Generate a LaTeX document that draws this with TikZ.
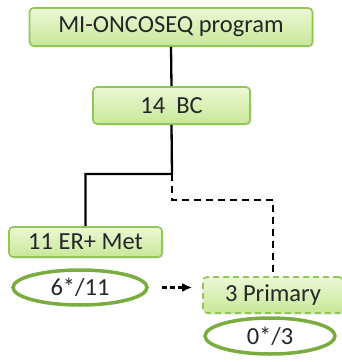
\documentclass[tikz,border=0pt]{standalone}
\usepackage{fontspec}
\setmainfont{Carlito}
\usetikzlibrary{arrows.meta,shapes.geometric,shadows}

\begin{document}
\begin{tikzpicture}[x=1pt,y=-1pt,>={Latex[length=10pt,width=9pt]},
  grbox/.style={draw=boxedge,line width=1.6pt,rounded corners=4pt,top color=boxtop,bottom color=boxbot,
    drop shadow={opacity=.2,shadow xshift=1.5pt,shadow yshift=-1.5pt},
    inner sep=0pt,font=\fontsize{24.5}{28}\selectfont,text=black!85},
  count/.style={ellipse,draw=ringgreen,line width=3.5pt,fill=white,inner sep=0pt,font=\fontsize{24.5}{28}\selectfont,text=black!85},
  link/.style={line width=2.3pt,draw=black},
  maybe/.style={line width=2.3pt,draw=black,dash pattern=on 7pt off 5pt}]
\definecolor{boxedge}{RGB}{146,198,86}
\definecolor{boxtop}{RGB}{236,248,214}
\definecolor{boxbot}{RGB}{200,231,152}
\definecolor{ringgreen}{RGB}{122,172,64}
\useasboundingbox (0,0) rectangle (342,362);
\node[grbox,minimum width=283pt,minimum height=38pt] (prog) at (171,27) {MI-ONCOSEQ program};
\node[grbox,minimum width=157pt,minimum height=37pt] (bc) at (171.5,105.5) {14\ \ BC};
\node[grbox,minimum width=153pt,minimum height=30pt] (met) at (85.5,242) {11 ER+ Met};
\node[grbox,dash pattern=on 6pt off 4pt,minimum width=140pt,minimum height=36pt] (prim) at (273,295) {3 Primary};
\node[count,minimum width=134pt,minimum height=35pt] (r1) at (80,287.5) {6*/11};
\node[count,minimum width=130pt,minimum height=36pt] (r2) at (270,336) {0*/3};
\coordinate (split) at (172,174);
\coordinate (bend) at (172,200);
\draw[link] (prog.south) -- (bc.north);
\draw[link] (bc.south) -- (split) -| (met.north);
\draw[maybe] (split) -- (bend) -| (prim.north);
\draw[->,line width=2.3pt,dash pattern=on 5pt off 3pt,shorten <=13pt,shorten >=10pt] (r1.east) -- (r1.east -| prim.west);
\end{tikzpicture}
\end{document}
